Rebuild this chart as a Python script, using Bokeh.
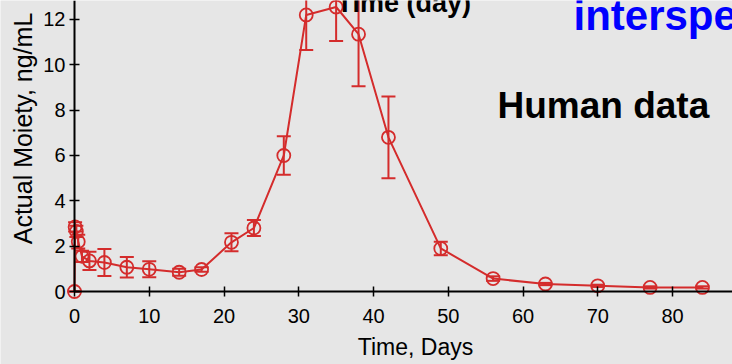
import math
from bokeh.plotting import figure
from bokeh.models import (Range1d, Whisker, TeeHead, ColumnDataSource, Label,
                          FixedTicker, LinearAxis)
from bokeh.embed import file_html
from bokeh.resources import INLINE

# ---- data ----
days = [0, 0.08, 0.25, 0.5, 1, 2, 4, 7, 10, 14, 17, 21, 24, 28, 31, 35, 38, 42,
        49, 56, 63, 70, 77, 84]
moiety = [0.0, 2.85, 2.65, 2.2, 1.55, 1.35, 1.28, 1.07, 0.98, 0.85, 0.97, 2.17,
          2.8, 6.0, 12.2, 12.55, 11.35, 6.8, 1.9, 0.57, 0.33, 0.25, 0.18, 0.18]
sd = [0.0, 0.2, 0.25, 0.3, 0.25, 0.4, 0.6, 0.45, 0.35, 0.15, 0.1, 0.4, 0.35,
      0.85, 1.55, 1.5, 2.3, 1.8, 0.3, 0.1, 0.05, 0.05, 0.05, 0.05]
x_ticks = [0, 10, 20, 30, 40, 50, 60, 70, 80]
y_ticks = [0, 2, 4, 6, 8, 10, 12]
x_title = "Time, Days"
y_title = "Actual Moiety, ng/mL"

# ---- layout helpers (pixel geometry of the frame) ----
W, H = 732, 364
X0, XS = 74.0, 7.475     # px of day 0, px per day
Y0, YS = 291.0, 22.67    # px of value 0, px per unit


def dx(px):
    return (px - X0) / XS


def dy(py):
    return (Y0 - py) / YS


BG = "#e6e6e6"
RED = "#d42c2c"
FONT = "Liberation Sans"

p = figure(width=W, height=H, x_range=Range1d(dx(0), dx(W)),
           y_range=Range1d(dy(H), dy(0)), output_backend="svg",
           toolbar_location=None, x_axis_location=None, y_axis_location=None,
           min_border=0, background_fill_color=BG, border_fill_color=BG,
           outline_line_color=None)
p.grid.grid_line_color = None

xaxis = LinearAxis(fixed_location=0, bounds=(0, dx(W + 40)),
                   ticker=FixedTicker(ticks=x_ticks))
yaxis = LinearAxis(fixed_location=0, bounds=(0, dy(-40)),
                   ticker=FixedTicker(ticks=y_ticks))
for ax in (xaxis, yaxis):
    ax.axis_line_color = "black"
    ax.axis_line_width = 2
    ax.major_tick_line_color = "black"
    ax.major_tick_line_width = 1.5
    ax.major_tick_in = 5
    ax.major_tick_out = 5
    ax.minor_tick_line_color = None
    ax.major_label_text_font = FONT
    ax.major_label_text_font_size = "20px"
    ax.major_label_text_color = "black"
xaxis.major_label_standoff = 12
yaxis.major_label_standoff = 4
p.add_layout(xaxis, "below")
p.add_layout(yaxis, "left")

# axis titles placed where the reference shows them
p.add_layout(Label(x=dx(415), y=dy(346), text=x_title, text_font=FONT,
                   text_font_size="23px", text_color="black",
                   text_align="center", text_baseline="alphabetic"))
p.add_layout(Label(x=dx(22), y=dy(128), text=y_title, text_font=FONT,
                   text_font_size="25px", text_color="black",
                   text_align="center", text_baseline="middle",
                   angle=math.pi / 2))

src = ColumnDataSource(dict(
    days=days, moiety=moiety,
    upper=[m + s for m, s in zip(moiety, sd)],
    lower=[m - s for m, s in zip(moiety, sd)],
))

p.add_layout(Whisker(source=src, base="days", upper="upper", lower="lower",
                     line_color=RED, line_width=2,
                     upper_head=TeeHead(size=14, line_color=RED, line_width=2),
                     lower_head=TeeHead(size=14, line_color=RED, line_width=2)))
p.line("days", "moiety", source=src, line_color=RED, line_width=2)
p.scatter("days", "moiety", source=src, size=13, fill_color=None,
          line_color=RED, line_width=1.8)

p.add_layout(Label(x=dx(336), y=dy(2), text="Time (day)",
                   text_font=FONT, text_font_size="27px",
                   text_font_style="bold", text_color="black",
                   text_baseline="alphabetic"))
p.add_layout(Label(x=dx(573), y=dy(15), text="interspe",
                   text_font=FONT, text_font_size="42px",
                   text_font_style="bold", text_color="#0000ff",
                   text_baseline="alphabetic"))
p.add_layout(Label(x=dx(497), y=dy(105), text="Human data",
                   text_font=FONT, text_font_size="37px",
                   text_font_style="bold", text_color="black",
                   text_baseline="alphabetic"))

open("out.html", "w").write(file_html(p, INLINE))
